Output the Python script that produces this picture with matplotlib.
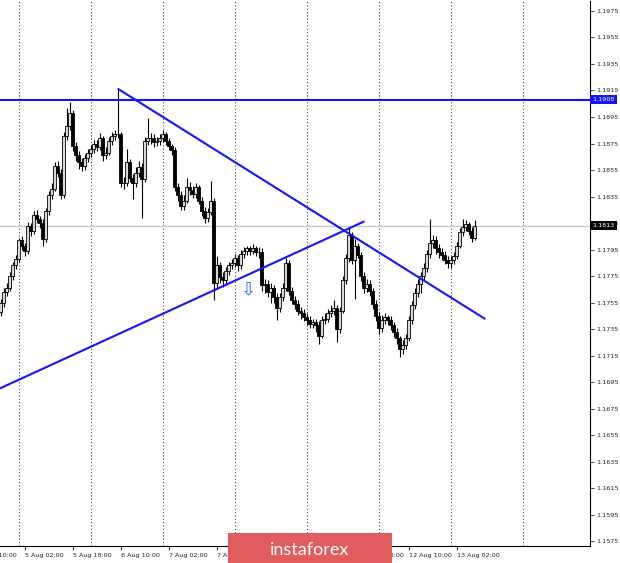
import numpy as np
import matplotlib.pyplot as plt
from matplotlib.patches import Rectangle


# EURUSD H1 candles, 4 Aug 18:00 .. 13 Aug 10:00 (bar index = hour bars)
opens = [
    1.1748, 1.1755, 1.1763, 1.1766, 1.1775, 1.1783, 1.1788, 1.1802, 1.1798, 1.1794,
    1.1813, 1.1809, 1.1821, 1.1818, 1.1815, 1.1803, 1.1824, 1.1836, 1.1841, 1.1858,
    1.1853, 1.1836, 1.1881, 1.1888, 1.1898, 1.1873, 1.1866, 1.1861, 1.1858, 1.1864,
    1.1868, 1.1871, 1.1875, 1.1872, 1.1879, 1.1866, 1.1868, 1.1877, 1.1881, 1.1882,
    1.1882, 1.1845, 1.1845, 1.1861, 1.1849, 1.1845, 1.1853, 1.1857, 1.1848, 1.1877,
    1.1879, 1.1879, 1.1876, 1.1877, 1.1879, 1.1882, 1.1877, 1.1873, 1.1870, 1.1842,
    1.1836, 1.1828, 1.1832, 1.1842, 1.1840, 1.1837, 1.1842, 1.1832, 1.1824, 1.1819,
    1.1823, 1.1832, 1.1770, 1.1783, 1.1774, 1.1772, 1.1779, 1.1783, 1.1785, 1.1789,
    1.1783, 1.1792, 1.1794, 1.1796, 1.1794, 1.1796, 1.1793, 1.1793, 1.1768, 1.1769,
    1.1763, 1.1766, 1.1759, 1.1751, 1.1759, 1.1766, 1.1785, 1.1764, 1.1757, 1.1754,
    1.1749, 1.1747, 1.1744, 1.1742, 1.1739, 1.1740, 1.1738, 1.1730, 1.1742, 1.1743,
    1.1747, 1.1749, 1.1751, 1.1735, 1.1749, 1.1772, 1.1789, 1.1806, 1.1787, 1.1798,
    1.1791, 1.1775, 1.1766, 1.1769, 1.1764, 1.1754, 1.1745, 1.1736, 1.1742, 1.1744,
    1.1742, 1.1738, 1.1733, 1.1728, 1.1720, 1.1723, 1.1728, 1.1742, 1.1753, 1.1762,
    1.1769, 1.1775, 1.1781, 1.1792, 1.1800, 1.1802, 1.1796, 1.1793, 1.1791, 1.1787,
    1.1785, 1.1787, 1.1790, 1.1798, 1.1808, 1.1812, 1.1814, 1.1809, 1.1804,
]
closes = [
    1.1755, 1.1763, 1.1766, 1.1775, 1.1783, 1.1788, 1.1802, 1.1798, 1.1794, 1.1813,
    1.1809, 1.1821, 1.1818, 1.1815, 1.1803, 1.1824, 1.1836, 1.1841, 1.1858, 1.1853,
    1.1836, 1.1881, 1.1888, 1.1898, 1.1873, 1.1866, 1.1861, 1.1858, 1.1864, 1.1868,
    1.1871, 1.1875, 1.1872, 1.1879, 1.1866, 1.1868, 1.1877, 1.1881, 1.1882, 1.1882,
    1.1845, 1.1845, 1.1861, 1.1849, 1.1845, 1.1853, 1.1857, 1.1848, 1.1877, 1.1879,
    1.1879, 1.1876, 1.1877, 1.1879, 1.1882, 1.1877, 1.1873, 1.1870, 1.1842, 1.1836,
    1.1828, 1.1832, 1.1842, 1.1840, 1.1837, 1.1842, 1.1832, 1.1824, 1.1819, 1.1823,
    1.1832, 1.1770, 1.1783, 1.1774, 1.1772, 1.1779, 1.1783, 1.1785, 1.1789, 1.1783,
    1.1792, 1.1794, 1.1796, 1.1794, 1.1796, 1.1793, 1.1793, 1.1768, 1.1769, 1.1763,
    1.1766, 1.1759, 1.1751, 1.1759, 1.1766, 1.1785, 1.1764, 1.1757, 1.1754, 1.1749,
    1.1747, 1.1744, 1.1742, 1.1739, 1.1740, 1.1738, 1.1730, 1.1742, 1.1743, 1.1747,
    1.1749, 1.1751, 1.1735, 1.1749, 1.1772, 1.1789, 1.1806, 1.1787, 1.1798, 1.1791,
    1.1775, 1.1766, 1.1769, 1.1764, 1.1754, 1.1745, 1.1736, 1.1742, 1.1744, 1.1742,
    1.1738, 1.1733, 1.1728, 1.1720, 1.1723, 1.1728, 1.1742, 1.1753, 1.1762, 1.1769,
    1.1775, 1.1781, 1.1792, 1.1800, 1.1802, 1.1796, 1.1793, 1.1791, 1.1787, 1.1785,
    1.1787, 1.1790, 1.1798, 1.1808, 1.1812, 1.1814, 1.1809, 1.1804, 1.1813,
]
highs = [
    1.1758, 1.1766, 1.1770, 1.1778, 1.1786, 1.1791, 1.1804, 1.1805, 1.1800, 1.1816,
    1.1815, 1.1824, 1.1825, 1.1820, 1.1818, 1.1826, 1.1839, 1.1845, 1.1861, 1.1862,
    1.1856, 1.1884, 1.1902, 1.1906, 1.1900, 1.1876, 1.1869, 1.1864, 1.1867, 1.1871,
    1.1874, 1.1878, 1.1878, 1.1883, 1.1881, 1.1872, 1.1880, 1.1884, 1.1885, 1.1916,
    1.1884, 1.1850, 1.1871, 1.1863, 1.1852, 1.1857, 1.1862, 1.1860, 1.1880, 1.1894,
    1.1883, 1.1882, 1.1880, 1.1882, 1.1885, 1.1884, 1.1879, 1.1875, 1.1872, 1.1845,
    1.1839, 1.1836, 1.1849, 1.1846, 1.1843, 1.1845, 1.1844, 1.1835, 1.1827, 1.1826,
    1.1847, 1.1834, 1.1790, 1.1786, 1.1778, 1.1782, 1.1786, 1.1788, 1.1792, 1.1791,
    1.1795, 1.1797, 1.1798, 1.1798, 1.1799, 1.1798, 1.1797, 1.1796, 1.1773, 1.1772,
    1.1770, 1.1768, 1.1762, 1.1762, 1.1770, 1.1789, 1.1787, 1.1767, 1.1760, 1.1757,
    1.1752, 1.1750, 1.1747, 1.1745, 1.1743, 1.1743, 1.1741, 1.1745, 1.1747, 1.1750,
    1.1753, 1.1757, 1.1753, 1.1752, 1.1775, 1.1792, 1.1812, 1.1808, 1.1803, 1.1800,
    1.1793, 1.1778, 1.1773, 1.1772, 1.1766, 1.1757, 1.1748, 1.1746, 1.1747, 1.1746,
    1.1745, 1.1740, 1.1736, 1.1730, 1.1727, 1.1731, 1.1745, 1.1756, 1.1766, 1.1773,
    1.1778, 1.1785, 1.1795, 1.1818, 1.1806, 1.1805, 1.1799, 1.1796, 1.1794, 1.1790,
    1.1790, 1.1793, 1.1801, 1.1811, 1.1818, 1.1817, 1.1816, 1.1812, 1.1817,
]
lows = [
    1.1745, 1.1752, 1.1760, 1.1764, 1.1772, 1.1780, 1.1786, 1.1795, 1.1790, 1.1792,
    1.1805, 1.1807, 1.1815, 1.1811, 1.1798, 1.1801, 1.1821, 1.1833, 1.1839, 1.1850,
    1.1833, 1.1834, 1.1878, 1.1885, 1.1869, 1.1862, 1.1856, 1.1854, 1.1855, 1.1861,
    1.1865, 1.1868, 1.1869, 1.1870, 1.1862, 1.1863, 1.1866, 1.1874, 1.1878, 1.1879,
    1.1842, 1.1841, 1.1843, 1.1846, 1.1833, 1.1842, 1.1850, 1.1819, 1.1846, 1.1874,
    1.1875, 1.1872, 1.1873, 1.1874, 1.1876, 1.1874, 1.1870, 1.1866, 1.1839, 1.1832,
    1.1825, 1.1825, 1.1830, 1.1836, 1.1834, 1.1834, 1.1829, 1.1820, 1.1815, 1.1816,
    1.1821, 1.1757, 1.1765, 1.1770, 1.1767, 1.1769, 1.1776, 1.1780, 1.1782, 1.1779,
    1.1780, 1.1789, 1.1791, 1.1791, 1.1792, 1.1790, 1.1789, 1.1764, 1.1762, 1.1759,
    1.1755, 1.1755, 1.1742, 1.1748, 1.1756, 1.1764, 1.1761, 1.1754, 1.1750, 1.1746,
    1.1743, 1.1741, 1.1738, 1.1736, 1.1736, 1.1733, 1.1724, 1.1728, 1.1739, 1.1740,
    1.1744, 1.1746, 1.1725, 1.1732, 1.1747, 1.1769, 1.1786, 1.1784, 1.1758, 1.1789,
    1.1771, 1.1762, 1.1763, 1.1760, 1.1750, 1.1741, 1.1731, 1.1733, 1.1739, 1.1738,
    1.1734, 1.1729, 1.1724, 1.1714, 1.1716, 1.1720, 1.1726, 1.1739, 1.1750, 1.1759,
    1.1762, 1.1771, 1.1778, 1.1789, 1.1796, 1.1792, 1.1789, 1.1787, 1.1784, 1.1781,
    1.1781, 1.1784, 1.1788, 1.1796, 1.1805, 1.1809, 1.1806, 1.1801, 1.1802,
]

# time axis labels (every 16 bars) and day separators (every 24 bars)
time_labels = ['4 Aug 10:00', '5 Aug 02:00', '5 Aug 18:00', '6 Aug 10:00', '7 Aug 02:00',
               '7 Aug 18:00', '10 Aug 10:00', '11 Aug 02:00', '11 Aug 18:00',
               '12 Aug 10:00', '13 Aug 02:00']
time_label_bars = [-8, 8, 24, 40, 56, 72, 88, 104, 120, 136, 152]
day_bars = [6, 30, 54, 78, 102, 126, 150, 174]

price_ticks = [1.1975, 1.1955, 1.1935, 1.1915, 1.1895, 1.1875, 1.1855, 1.1835, 1.1815,
               1.1795, 1.1775, 1.1755, 1.1735, 1.1715, 1.1695, 1.1675, 1.1655, 1.1635,
               1.1615, 1.1595, 1.1575]

# drawn objects
resistance = 1.1908
last_price = 1.1813
down_line = ([39.3, 161.3], [1.1916, 1.1743])
up_line = ([-0.5, 121.0], [1.1690, 1.1816])
arrow_pos = (82.7, 1.1765)

opens = np.array(opens)
closes = np.array(closes)
idx = np.arange(len(closes))
up = closes >= opens

fig = plt.figure(figsize=(6.2, 5.63), dpi=100)
ax = fig.add_axes([0, 17 / 563, 590 / 620, 545 / 563])
ax.set_xlim(-0.2, 196.5)
ax.set_ylim(1.15714, 1.19825)

# day separators
for d in day_bars:
    ax.axvline(d, color='#444444', lw=0.8, ls=(0, (1, 2)), zorder=1)

# price line
ax.axhline(last_price, color='#c8c8c8', lw=1, zorder=1)

# candles
ax.vlines(idx, lows, highs, color='black', lw=0.8, zorder=2)
bottoms = np.minimum(opens, closes)
heights = np.abs(closes - opens)
ax.bar(idx, heights, bottom=bottoms, width=0.8,
       color=['#d8d8d8' if u else 'black' for u in up],
       edgecolor='black', linewidth=0.6, zorder=3)

# lines
ax.axhline(resistance, color='#1414ff', lw=1.5, zorder=4)
ax.plot(*down_line, color='#1414ff', lw=1.5, zorder=4)
ax.plot(*up_line, color='#1414ff', lw=1.5, zorder=4)
ax.text(arrow_pos[0], arrow_pos[1], '\u21e9', color='#3060ff', fontsize=13,
        ha='center', va='center', zorder=5)

# axes styling
for s in ['left', 'top']:
    ax.spines[s].set_visible(False)
ax.spines['right'].set_linewidth(0.8)
ax.spines['bottom'].set_linewidth(0.8)
ax.yaxis.tick_right()
ax.set_yticks(price_ticks)
ax.set_yticklabels([f'{p:.4f}' for p in price_ticks])
ax.tick_params(axis='y', length=3, width=0.6, labelsize=4.6, pad=1.5, colors='#222222')
ax.set_xticks([b for b in time_label_bars if b >= 0])
ax.set_xticklabels([])
ax.tick_params(axis='x', length=3, width=0.6)

# time labels sit just right of their tick, like the terminal draws them
for b, lab in zip(time_label_bars, time_labels):
    ax.text(b + 0.3, -0.012, lab, transform=ax.get_xaxis_transform(),
            fontsize=4.6, ha='left', va='top', color='#222222', clip_on=False)

# price boxes on the scale
ax.text(1.004, resistance, f'{resistance:.4f}', transform=ax.get_yaxis_transform(),
        fontsize=4.6, color='white', va='center', ha='left',
        bbox=dict(boxstyle='square,pad=0.3', fc='#1414ff', ec='none'))
ax.text(1.004, last_price, f'{last_price:.4f}', transform=ax.get_yaxis_transform(),
        fontsize=4.6, color='white', va='center', ha='left',
        bbox=dict(boxstyle='square,pad=0.3', fc='black', ec='none'))

# watermark
fig.patches.append(Rectangle((228 / 620, 0), 164 / 620, 30 / 563,
                             transform=fig.transFigure, fc='#e15d5d', ec='none', zorder=10))
fig.text(310 / 620, 13 / 563, 'instaforex', color='white', fontsize=13,
         family='Lato', ha='center', va='center', zorder=11)

fig.savefig('out.png', dpi=100)
